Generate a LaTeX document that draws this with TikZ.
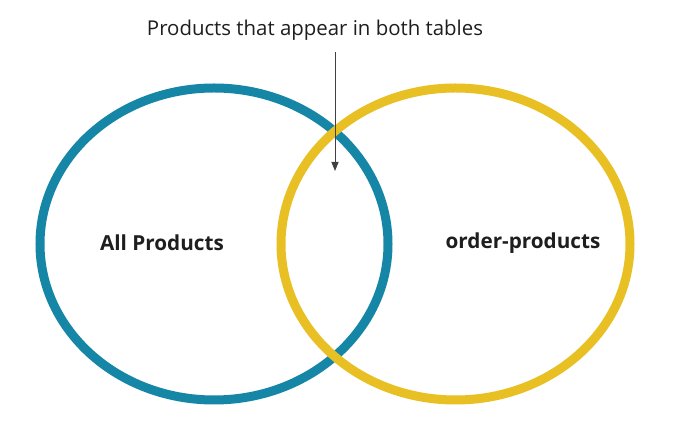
\documentclass[tikz,border=0pt]{standalone}
\usepackage{fontspec}
\setmainfont{Open Sans}
\usetikzlibrary{arrows.meta}
\definecolor{setblue}{RGB}{22,134,166}
\definecolor{setyellow}{RGB}{232,192,36}
\definecolor{ink}{RGB}{30,30,30}
\begin{document}
\begin{tikzpicture}[x=1pt,y=1pt,
  setring/.style={line width=9pt},
  setlabel/.style={font=\fontsize{20.7}{24}\selectfont\bfseries, text=ink},
  caption/.style={font=\fontsize{20.4}{24}\selectfont, text=ink},
  pointer/.style={draw=black!75, line width=0.9pt, -{Triangle[length=9pt,width=7pt]}}]
\useasboundingbox (0,0) rectangle (675,441);
\fill[white] (0,0) rectangle (675,441);
\draw[setring, setblue] (214,197) ellipse [x radius=174, y radius=156];
\draw[setring, setyellow] (455.5,197) ellipse [x radius=174.5, y radius=156];
\node[setlabel] (all) at (162,198) {All Products};
\node[setlabel] (order) at (523,198) {order-products};
\node[caption] (cap) at (315,411) {Products that appear in both tables};
\coordinate (capfoot) at (335,389);
\coordinate (tip) at (335,270);
\draw[pointer] (capfoot) -- (tip);
\end{tikzpicture}
\end{document}
